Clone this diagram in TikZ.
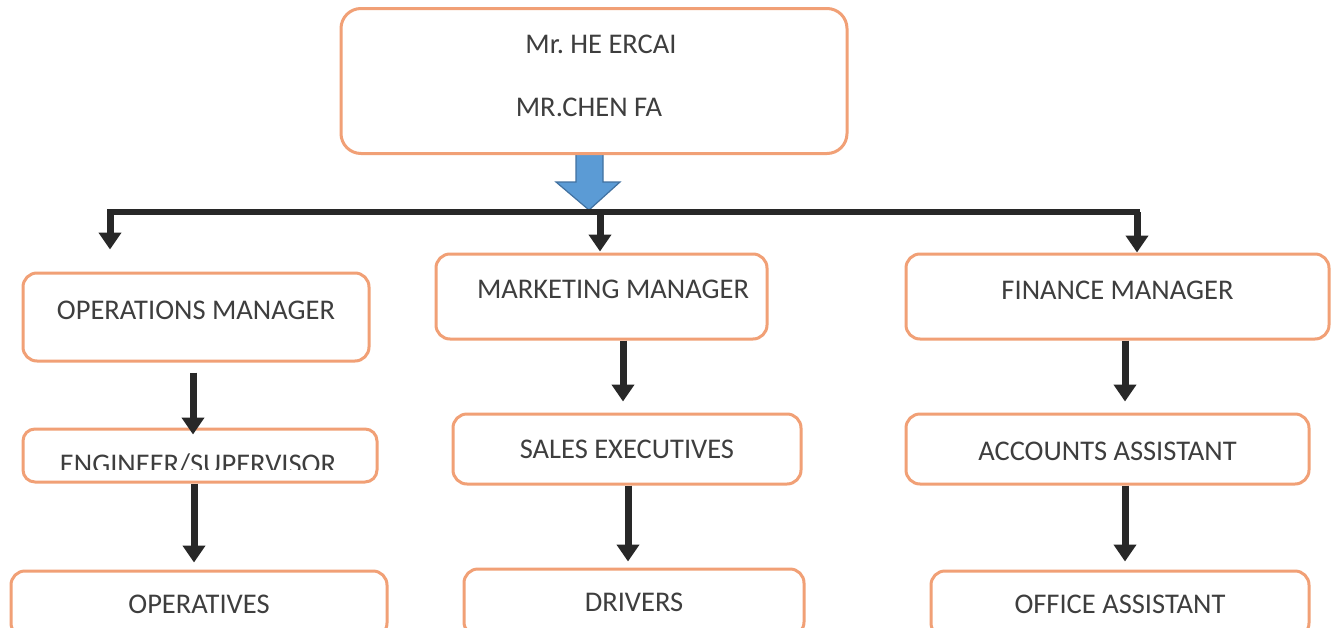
\documentclass[tikz,border=0pt]{standalone}
\usepackage{fontspec}
\setmainfont{Carlito}
\usetikzlibrary{arrows.meta,calc}
\definecolor{boxorange}{RGB}{241,160,118}
\definecolor{inkdark}{RGB}{40,40,40}
\definecolor{txtgray}{RGB}{62,62,62}
\definecolor{bluefill}{RGB}{91,155,213}
\definecolor{blueedge}{RGB}{65,113,160}
\tikzset{
  orgbox/.style={draw=boxorange, line width=3pt, rounded corners=14pt, fill=white,
    text=txtgray, font=\fontsize{28.5}{34}\selectfont, inner sep=0pt,
    text height=18pt, text depth=0pt},
  orglabel/.style={text=txtgray, font=\fontsize{28.5}{34}\selectfont, inner sep=0pt,
    text height=18pt, text depth=0pt},
  conn/.style={draw=inkdark, line width=7pt, -{Triangle[width=22pt,length=17pt]}},
  busline/.style={draw=inkdark, line width=6pt, line cap=rect},
  blockarrow/.style={fill=bluefill, draw=blueedge, line width=1.2pt, line join=miter},
}
\begin{document}
\begin{tikzpicture}[x=1pt,y=-1pt]
\clip (0,0) rectangle (1334,627);
\fill[white] (0,0) rectangle (1334,627);

% blue block arrow under the top box
\draw[blockarrow] (576,153) -- (603,153) -- (603,182) -- (620,182) -- (589,210)
  -- (556,182) -- (576,182) -- cycle;

% top box
\node[orgbox, rounded corners=20pt, minimum width=506pt, minimum height=145pt,
  align=center, font=\fontsize{28.5}{62.5}\selectfont, text height=80.5pt, text depth=10pt]
  (top) at (594,81) {\hspace*{14pt}Mr.\ HE ERCAI\\MR.CHEN FA\hspace*{10pt}};

% second level
\node[orgbox, minimum width=346pt, minimum height=88pt, text depth=13pt]
  (om) at (196,317) {OPERATIONS MANAGER};
\node[orgbox, minimum width=331pt, minimum height=85pt, text depth=15pt]
  (mm) at (601.5,296.5) {\hspace*{23pt}MARKETING MANAGER};
\node[orgbox, minimum width=423pt, minimum height=85pt, text depth=12pt]
  (fm) at (1117.5,296.5) {FINANCE MANAGER};

% third level
\node[orgbox, rounded corners=12pt, minimum width=354pt, minimum height=53pt]
  (eng) at (200,455.5) {};
\begin{scope}
  \clip (24,430) rectangle (376,469);
  \node[orglabel] (engt) at (198,464) {ENGINEER/SUPERVISOR};
\end{scope}
\node[orgbox, minimum width=348pt, minimum height=70pt]
  (se) at (627,449) {SALES EXECUTIVES};
\node[orgbox, minimum width=403pt, minimum height=70pt, text height=22pt]
  (aa) at (1107.5,449) {ACCOUNTS ASSISTANT};

% fourth level (cut by the lower edge)
\node[orgbox, minimum width=376pt, minimum height=66pt]
  (op) at (199,604) {OPERATIVES};
\node[orgbox, minimum width=340pt, minimum height=67pt]
  (dr) at (634,602.5) {DRIVERS};
\node[orgbox, minimum width=378pt, minimum height=66pt]
  (oa) at (1120,604) {OFFICE ASSISTANT};

% bus line
\coordinate (busL) at (110,212);
\coordinate (busM) at (600,212);
\coordinate (busR) at (1137,212);
\draw[busline] (busL) -- (busR);
\draw[conn] (busL) -- ($(busL |- om.north)+(0,-22)$);
\draw[conn] (busM) -- ($(busM |- mm.north)+(0,-1)$);
\draw[conn] (busR) -- (busR |- fm.north);

% vertical connectors
\draw[conn] ([xshift=-3pt,yshift=-10pt]om.south) -- ([xshift=-7pt,yshift=-7pt]eng.north);
\draw[conn] ([xshift=-6pt]eng.south) -- ([xshift=-5pt,yshift=7pt]op.north);
\draw[conn] ([xshift=21.5pt]mm.south) -- ([xshift=-4pt,yshift=11pt]se.north);
\draw[conn] ([xshift=1pt]se.south) -- ([xshift=-6pt,yshift=6pt]dr.north);
\draw[conn] ([xshift=7.5pt]fm.south) -- ([xshift=17.5pt,yshift=11pt]aa.north);
\draw[conn] ([xshift=17.5pt]aa.south) -- ([xshift=5pt,yshift=8pt]oa.north);
\end{tikzpicture}
\end{document}
